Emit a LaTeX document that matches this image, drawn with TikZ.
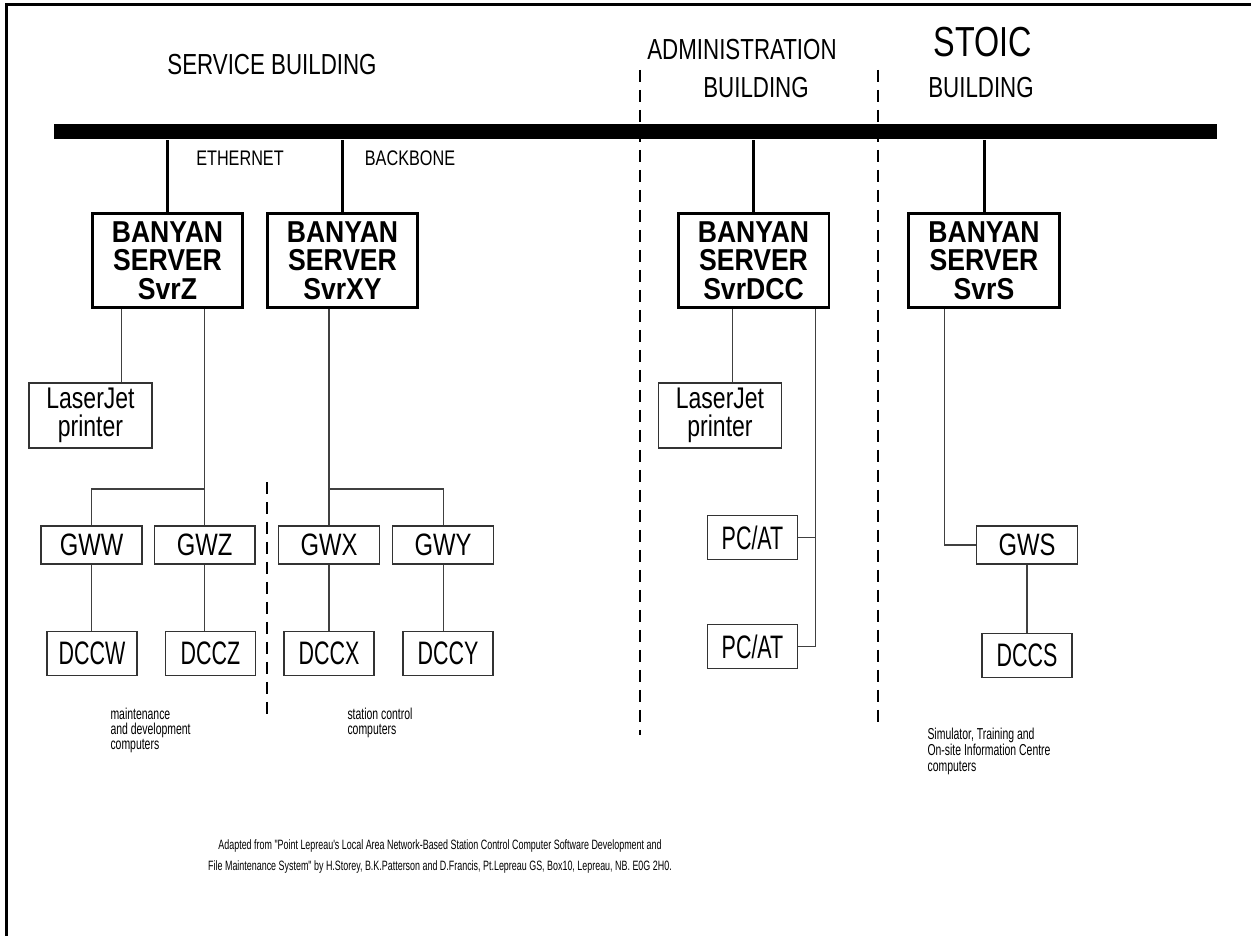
\documentclass[tikz,border=0pt]{standalone}
\usepackage{fontspec}
\setmainfont{Liberation Sans}
\newfontfamily\narrowfont[FakeStretch=0.77]{Liberation Sans}
\newfontfamily\tightfont[FakeStretch=0.66]{Liberation Sans}
\newfontfamily\serverfont[FakeStretch=0.88]{Liberation Sans}
\usetikzlibrary{calc, positioning}

\begin{document}
\begin{tikzpicture}[
        x=0.02cm, y=-0.02cm,
        line width=0.6pt,
        title/.style={
            font=\narrowfont\fontsize{16.5}{18}\selectfont,
            inner sep=0pt
        },
        tag/.style={
            font=\narrowfont\fontsize{12}{14}\selectfont,
            inner sep=0pt
        },
        note/.style={
            font=\tightfont\fontsize{9}{8.5}\selectfont,
            align=left,
            inner sep=0pt
        },
        server/.style={
            draw,
            line width=1.7pt,
            minimum width=3.02cm,
            minimum height=1.9cm,
            inner sep=0pt,
            align=center,
            font=\serverfont\bfseries\fontsize{17.2}{16.2}\selectfont
        },
        printer/.style={
            draw=black!80,
            minimum width=2.46cm,
            minimum height=1.3cm,
            inner sep=0pt,
            align=center,
            font=\narrowfont\fontsize{17}{15.6}\selectfont
        },
        gateway/.style={
            draw=black!80,
            minimum width=2.02cm,
            minimum height=0.76cm,
            inner sep=0pt,
            font=\narrowfont\fontsize{17.6}{18}\selectfont
        },
        station/.style={
            draw=black!80,
            minimum width=1.8cm,
            minimum height=0.88cm,
            inner sep=0pt,
            font=\tightfont\fontsize{18.5}{20}\selectfont
        },
        trunk/.style={line width=1.7pt},
        link/.style={draw=black!75, line width=0.6pt},
        divider/.style={line width=1.1pt, dash pattern=on 0.24cm off 0.16cm}
    ]

        \useasboundingbox (0,0) rectangle (1251,936);
        \draw[line width=2pt] (6.5,936) -- (6.5,4.5) -- (1251,4.5);

        % buildings and backbone
        \node[title] (svcTitle) at (272,65) {SERVICE BUILDING};
        \node[title] (admTitle) at (742,50) {ADMINISTRATION};
        \node[title] (admBldg) at (756,88) {BUILDING};
        \node[title, font=\narrowfont\fontsize{23.9}{26}\selectfont] (stoicTitle) at (983,42) {STOIC};
        \node[title] (stoicBldg) at (981,88) {BUILDING};

        \node[fill, minimum width=23.26cm, minimum height=0.3cm, inner sep=0pt] (bus) at (635.5,131.5) {};
        \node[tag] (ethTag) at (240,158) {ETHERNET};
        \node[tag] (bbTag) at (410,158) {BACKBONE};

        \draw[divider] (640,70) -- (640,735);
        \draw[divider] (878,70) -- (878,722);
        \draw[divider] (267,482) -- (267,720);

        % servers
        \node[server] (srvZ) at (167.5,260.5) {BANYAN\\SERVER\\SvrZ};
        \node[server] (srvXY) at (342.5,260.5) {BANYAN\\SERVER\\SvrXY};
        \node[server] (srvDCC) at (753.5,260.5) {BANYAN\\SERVER\\SvrDCC};
        \node[server] (srvS) at (984,260.5) {BANYAN\\SERVER\\SvrS};

        \foreach \s in {srvZ, srvXY, srvDCC, srvS}
            \draw[trunk] (\s.north) -- (\s.north |- bus.south);

        % devices
        \node[printer] (ljZ) at (90.5,415.5) {LaserJet\\printer};
        \node[printer] (ljDCC) at (720,415.5) {LaserJet\\printer};

        \node[gateway] (gwW) at (91.5,545) {GWW};
        \node[gateway, right=0.22cm of gwW] (gwZ) {GWZ};
        \node[gateway] (gwX) at (329,545) {GWX};
        \node[gateway, right=0.24cm of gwX] (gwY) {GWY};
        \node[gateway] (gwS) at (1027,545) {GWS};

        \node[station] (dccW) at (92,653.5) {DCCW};
        \node[station] (dccZ) at (210.5,653.5) {DCCZ};
        \node[station] (dccX) at (329,653.5) {DCCX};
        \node[station] (dccY) at (448,653.5) {DCCY};
        \node[station, below=1.36cm of gwS] (dccS) {DCCS};

        \node[station] (pcA) at (752.5,537.5) {PC/AT};
        \node[station, below=1.28cm of pcA] (pcB) {PC/AT};

        % links
        \coordinate (tapZ) at ($(srvZ.south west)!0.2!(srvZ.south east)$);
        \draw[link] (tapZ) -- (tapZ |- ljZ.north);
        \coordinate (forkZ) at (gwZ.north |- 0,489);
        \draw[link] (srvZ.south -| gwZ.north) -- (gwZ.north);
        \draw[link] (forkZ) -| (gwW.north);
        \draw[link] (gwW.south) -- (gwW.south |- dccW.north);
        \draw[link] (gwZ.south) -- (gwZ.south |- dccZ.north);

        \coordinate (forkXY) at (gwX.north |- 0,489);
        \draw[link] (srvXY.south -| gwX.north) -- (gwX.north);
        \draw[link] (forkXY) -| (gwY.north);
        \draw[link] (gwX.south) -- (gwX.south |- dccX.north);
        \draw[link] (gwY.south) -- (gwY.south |- dccY.north);

        \coordinate (tapDCC) at ($(srvDCC.south west)!0.364!(srvDCC.south east)$);
        \coordinate (busDCC) at ($(srvDCC.south west)!0.9!(srvDCC.south east)$);
        \draw[link] (tapDCC) -- (tapDCC |- ljDCC.north);
        \draw[link] (busDCC) |- (pcB.east);
        \draw[link] (pcA.east) -- (pcA.east -| busDCC);

        \coordinate (tapS) at ($(srvS.south west)!0.245!(srvS.south east)$);
        \draw[link] (tapS) |- (gwS.west);
        \draw[link] (gwS.south) -- (dccS.north);

        % notes
        \node[note, anchor=north west] (mdNote) at (110,708) {maintenance\\and development\\computers};
        \node[note, anchor=north west] (scNote) at (347,708) {station control\\computers};
        \node[note, anchor=north west, font=\tightfont\fontsize{9}{9}\selectfont] (stNote) at (927,728) {Simulator, Training and\\On-site Information Centre\\computers};

        \node[note, align=center, anchor=north, font=\tightfont\fontsize{7.7}{12}\selectfont] (credit) at (440,839)
            {Adapted from "Point Lepreau's Local Area Network-Based Station Control Computer Software Development and\\File Maintenance System" by H.Storey, B.K.Patterson and D.Francis, Pt.Lepreau GS, Box10, Lepreau, NB. E0G 2H0.};

    \end{tikzpicture}
\end{document}
